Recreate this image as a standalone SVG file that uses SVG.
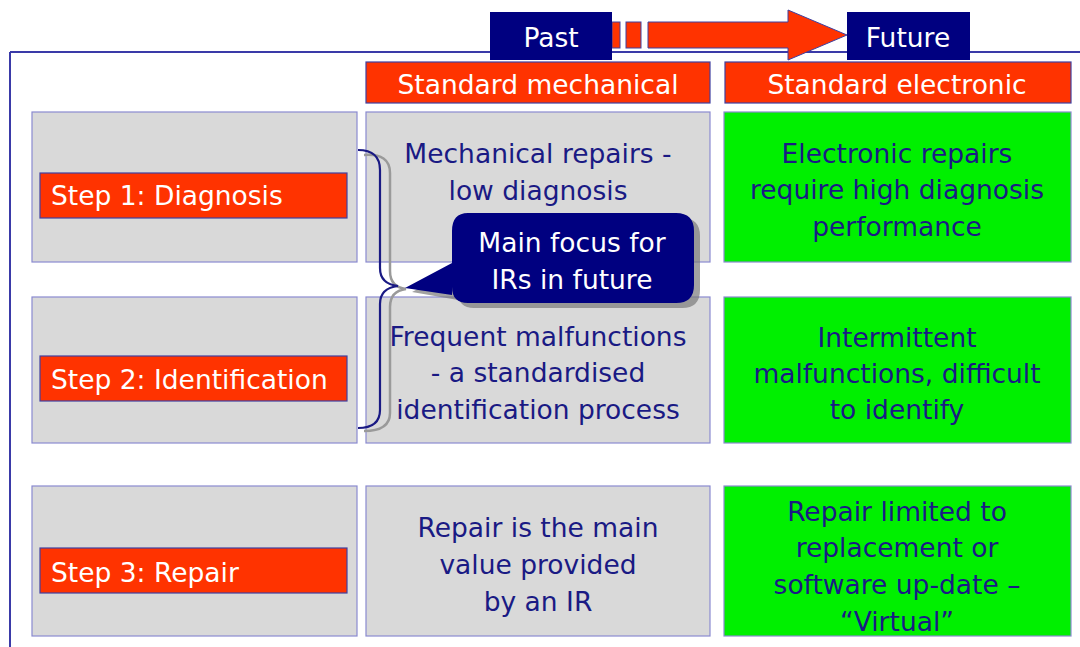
<svg xmlns="http://www.w3.org/2000/svg" width="1080" height="647" viewBox="0 0 1080 647">
<style>
.t{font-family:"DejaVu Sans",sans-serif;font-size:26.5px;text-anchor:middle}
.nv{fill:#1a1a84}
.wh{fill:#ffffff}
.gray{fill:#d9d9d9;stroke:#8a8ad0;stroke-width:1.2}
.grn{fill:#00f000;stroke:#8a8ad0;stroke-width:1.2}
.red{fill:#ff3300;stroke:#4040a0;stroke-width:1.2}
.step{font-family:"DejaVu Sans",sans-serif;font-size:26.5px;fill:#ffffff}
</style>
<rect width="1080" height="647" fill="#ffffff"/>
<g id="frame">
<path d="M10 52 H1080 M10 52 V647" fill="none" stroke="#3a3aa8" stroke-width="2"/>
</g>
<g id="timeline">
<rect x="612" y="22" width="8" height="26" fill="#ff3300" stroke="#4040a0" stroke-width="1"/>
<rect x="626" y="22" width="15" height="26" fill="#ff3300" stroke="#4040a0" stroke-width="1"/>
<path d="M648 22 H788 V10 L847 35 L788 60 V48 H648 Z" fill="#ff3300" stroke="#4040a0" stroke-width="1"/>
</g>
<g id="past">
<rect x="490" y="12" width="122" height="48" fill="#000080"/>
<text class="t wh" x="551" y="47">Past</text>
</g>
<g id="future">
<rect x="847" y="12" width="123" height="48" fill="#000080"/>
<text class="t wh" x="908" y="47">Future</text>
</g>
<g id="hdr-mech">
<rect class="red" x="366" y="62" width="344" height="41"/>
<text class="t wh" x="538" y="94">Standard mechanical</text>
</g>
<g id="hdr-elec">
<rect class="red" x="725" y="62" width="346" height="41"/>
<text class="t wh" x="897" y="94">Standard electronic</text>
</g>
<g id="step1">
<rect class="gray" x="32" y="112" width="325" height="150"/>
<rect class="red" x="40" y="173" width="307" height="45"/>
<text class="step" x="51" y="205">Step 1: Diagnosis</text>
</g>
<g id="step2">
<rect class="gray" x="32" y="297" width="325" height="146"/>
<rect class="red" x="40" y="356" width="307" height="45"/>
<text class="step" x="51" y="389">Step 2: Identification</text>
</g>
<g id="step3">
<rect class="gray" x="32" y="486" width="325" height="150"/>
<rect class="red" x="40" y="548" width="307" height="45"/>
<text class="step" x="51" y="582">Step 3: Repair</text>
</g>
<g id="mech1">
<rect class="gray" x="366" y="112" width="344" height="150"/>
<text class="t nv" x="538" y="163">Mechanical repairs -</text>
<text class="t nv" x="538" y="200">low diagnosis</text>
</g>
<g id="mech2">
<rect class="gray" x="366" y="297" width="344" height="146"/>
<text class="t nv" x="538" y="346">Frequent malfunctions</text>
<text class="t nv" x="538" y="382">- a standardised</text>
<text class="t nv" x="538" y="419">identification process</text>
</g>
<g id="mech3">
<rect class="gray" x="366" y="486" width="344" height="150"/>
<text class="t nv" x="538" y="537">Repair is the main</text>
<text class="t nv" x="538" y="574">value provided</text>
<text class="t nv" x="538" y="611">by an IR</text>
</g>
<g id="elec1">
<rect class="grn" x="724" y="112" width="347" height="150"/>
<text class="t nv" x="897" y="163">Electronic repairs</text>
<text class="t nv" x="897" y="199">require high diagnosis</text>
<text class="t nv" x="897" y="236">performance</text>
</g>
<g id="elec2">
<rect class="grn" x="724" y="297" width="347" height="146"/>
<text class="t nv" x="897" y="347">Intermittent</text>
<text class="t nv" x="897" y="383">malfunctions, difficult</text>
<text class="t nv" x="897" y="419">to identify</text>
</g>
<g id="elec3">
<rect class="grn" x="724" y="486" width="347" height="150"/>
<text class="t nv" x="897" y="521">Repair limited to</text>
<text class="t nv" x="897" y="557">replacement or</text>
<text class="t nv" x="897" y="594">software up-date –</text>
<text class="t nv" x="897" y="631">“Virtual”</text>
</g>
<g id="connectors">
<path d="M360 152 Q386 150 386 170 V268 Q386 284 402 286 Q386 288 386 304 V410 Q386 428 360 428" fill="none" stroke="#9a9a9a" stroke-width="2.5" transform="translate(4,3)"/>
<path d="M358 150 Q380 150 380 170 V268 Q380 284 398 286 Q380 288 380 304 V410 Q380 428 358 428" fill="none" stroke="#1a1a84" stroke-width="2.2"/>
</g>
<g id="callout">
<path d="M474 218 H682 Q700 218 700 236 V290 Q700 308 682 308 H474 Q458 308 458 292 V300 L412 292 L458 268 V236 Q458 218 474 218 Z" fill="#7a7a7a" opacity="0.7"/>
<path d="M468 213 H676 Q694 213 694 231 V285 Q694 303 676 303 H468 Q452 303 452 287 V295 L405 288 L452 263 V231 Q452 213 468 213 Z" fill="#000080"/>
<text class="t wh" x="572" y="252">Main focus for</text>
<text class="t wh" x="572" y="289">IRs in future</text>
</g>
</svg>
